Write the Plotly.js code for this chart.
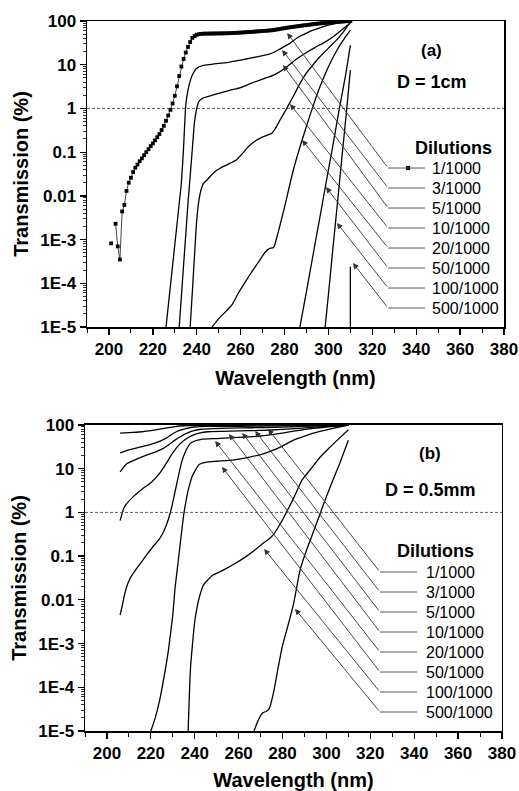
<!DOCTYPE html>
<html><head><meta charset="utf-8">
<script src="https://cdn.plot.ly/plotly-3.0.1.min.js"></script>
<style>html,body{margin:0;padding:0;background:#fff}#chart{width:519px;height:791px}</style>
</head><body><div id="chart"></div>
<script>
// ---------- data ----------
const dilutions = ['1/1000','3/1000','5/1000','10/1000','20/1000','50/1000','100/1000','500/1000'];
const yTickVals = [1e-5,1e-4,1e-3,0.01,0.1,1,10,100];
const yTickText = ['1E-5','1E-4','1E-3','0.01','0.1','1','10','100'];
const xTickVals = [200,220,240,260,280,300,320,340,360,380];

// Panel (a): D = 1cm
const a1_x = [201,202,203,204,205,206,207,208,209,210,211,212,213,214,215,216,217,218,219,220,
  221,222,223,224,225,226,227,228,229,230,231,232,233,234,235,236,237,238,239,240,
  241,242,243,244,245,246,247,248,249,250,251,252,253,254,255,256,257,258,259,260,
  261,262,263,264,265,266,267,268,269,270,271,272,273,274,275,276,277,278,279,280,
  281,282,283,284,285,286,287,288,289,290,291,292,293,294,295,296,297,298,299,300,
  301,302,303,304,305,306,307,308,309,310];
const a1_y = [8.2e-4,null,2.3e-3,7e-4,3.5e-4,4.4e-3,6.2e-3,0.013,0.020,0.026,0.035,0.044,0.052,0.062,0.072,0.085,0.10,0.117,0.138,0.158,
  0.186,0.22,0.26,0.32,0.40,0.52,0.69,0.93,1.3,1.95,3.2,5.5,9.1,13.5,19,25.5,33,41,45.3,48.5,
  50,50.8,51.2,51.4,51.5,51.6,51.7,51.8,51.9,52,52.1,52.2,52.3,52.5,52.7,53,53.3,53.6,54,54.4,
  54.8,55.2,55.6,56,56.5,57,57.5,58,58.5,59,59.5,60,60.6,61.2,62,63.3,64.6,66,67.3,68.6,
  70,71.2,72.4,73.6,74.8,76,77.2,78.4,79.6,80.8,82,83.2,84.4,85.6,86.8,88,88.9,89.8,90.7,91.6,
  92.5,93.4,94.3,95.2,96.1,97,97.9,98.8,99.4,100];
const a3_x = [226,228,230,232,233,234,235,236,237,238,240,243,246,250,255,260,265,270,273,275,278,282,286,290,294,298,302,306,310];
const a3_y = [1e-5,8.7e-5,7.6e-4,6.6e-3,0.02,0.13,1.2,2.6,4.2,5.8,8.3,9.6,10.1,10.7,11.5,12.8,14.3,16.2,17.5,19,23,30,42,53,64,75,85,93,100];
const a5_x = [232,233,234,235,236,237,238,239,240,241,243,245,250,255,260,265,270,273,275,278,282,286,290,294,298,302,306,310];
const a5_y = [1e-5,5e-5,2.6e-4,1.3e-3,6.7e-3,0.028,0.12,0.5,1.0,1.45,1.75,1.87,2.2,2.6,3.0,3.8,4.7,5.3,5.8,7,9.8,14,19,25,32,43,62,90];
const a10_x = [237,238,239,240,241,242,243,245,247,249,251,254,258,261,263,265,267,269,271,273,274,276,278,281,284,287,290,293,296,300,304,307,310];
const a10_y = [1e-5,6.5e-5,4.5e-4,2.8e-3,8e-3,0.014,0.019,0.024,0.031,0.038,0.044,0.052,0.066,0.095,0.125,0.155,0.185,0.21,0.232,0.255,0.265,0.36,0.55,1.0,1.9,3.7,6.5,10,15,24,38,58,95];
const a20_x = [247,249,251,253,256,259,262,265,268,271,273,275,277,280,284,288,292,296,300,304,308,310];
const a20_y = [1e-5,1.35e-5,1.75e-5,2.2e-5,3.2e-5,6e-5,1.05e-4,1.8e-4,3e-4,5e-4,6.2e-4,6.6e-4,1.4e-3,5.5e-3,0.039,0.19,0.8,3,9,22,45,62];
const a50_x = [287,290,293,296,299,302,305,308,310];
const a50_y = [1e-5,6.5e-5,4.5e-4,3e-3,0.021,0.14,1.0,6.5,28];
const a100_x = [298.5,300,302,304,306,308,310];
const a100_y = [1e-5,5.5e-5,6e-4,6e-3,0.065,0.65,7.5];
const a500_x = [310,310];
const a500_y = [1e-5,2.4e-4];
// arrow tips (a)
const tipsA_x = [281.2,278.9,279.3,282.5,288.0,298.9,303.9,311.2];
const tipsA_y = [53,21.7,9.8,1.26,0.19,0.0159,0.0024,2.9e-4];

// Panel (b): D = 0.5mm
const b1_x = [206,210,216,220,224,228,231,235,240,250,270,290,310];
const b1_y = [65,67,70,74,80,87,92,96,98,98.5,99,99.5,100];
const b3_x = [206,210,216,220,224,227,230,233,236,240,245,260,280,300,310];
const b3_y = [23,27,32,36,42,50,63,75,83,90,92.5,93.5,95,97.5,100];
const b5_x = [206,209,214,218,222,225,228,231,234,237,240,243,248,256,266,276,292,310];
const b5_y = [8.5,13,17,20.5,24,28,35,45,56,67,75,80,83,85,86.5,88,94,100];
const b10_x = [206,208,212,216,220,224,226,228,230,233,236,239,242,246,252,260,270,280,295,310];
const b10_y = [0.65,1.35,2.3,3.4,4.8,7.8,11,16,23,36,48,58,65,70,71.5,73,75,79,89,100];
const b20_x = [206,207,208,209,210,211,213,215,218,221,224,226,228,229,230,232,234,236,238,240,243,250,260,270,276,285,295,310];
const b20_y = [0.0045,0.0075,0.013,0.02,0.027,0.034,0.048,0.066,0.105,0.166,0.25,0.38,0.7,1.05,1.7,5,14,26,38,43,47,49,52,56,61,72,85,100];
const b50_x = [220,222,224,226,228,230,231,232,233,234,235,236,237,239,242,245,250,258,265,270,274,280,285,291,297,303,310];
const b50_y = [1e-5,2e-5,5e-5,1.7e-4,7e-4,4.5e-3,0.018,0.048,0.13,0.35,0.9,1.8,3.2,7,12.5,14,14.8,16,18.5,21,24.5,33,45,58,71,84,100];
const b100_x = [237,238,239,240,241,242,244,248,253,258,263,268,271,274,276,279,282,285,289,293,297,301,305,310];
const b100_y = [1e-5,2.4e-4,1e-3,3.2e-3,6.5e-3,0.011,0.022,0.036,0.048,0.066,0.095,0.145,0.195,0.25,0.32,0.55,1.05,2.1,5.6,10,18,29,45,78];
const b500_x = [267,269,271,272.5,274,276,278,280,282,285,288,291,294,297,300,303,306,310];
const b500_y = [1e-5,1.8e-5,2.6e-5,2.8e-5,3.3e-5,8e-5,2.8e-4,9e-4,2.1e-3,8e-3,0.048,0.14,0.35,0.9,2.3,5.5,13,45];
// arrow tips (b)
const tipsB_x = [273.4,267.5,261.6,255.6,249.3,252.4,271.6,285.7];
const tipsB_y = [81,73,66,62,43,11,0.146,0.0062];

// ---------- styling / layout ----------
const FONT = 'Liberation Sans, Arial, Helvetica, sans-serif';
const rowLog0 = -1.363, rowStep = 0.4575;          // label rows (log10 units)
const panelA = {xr:'x', yr:'y', tail:327.2, lineEnd:344.0, text:346.3, mark:336.3, head:{x:356.8, y:-0.905},
  tag:{x:347.1, y:1.336, t:'(a)'}, dl:{x:347.1, y:0.611, t:'D = 1cm'}};
const panelB = {xr:'x2', yr:'y2', tail:324.4, lineEnd:341.3, text:344.5, head:{x:349.5, y:-0.883},
  tag:{x:347.2, y:1.35, t:'(b)'}, dl:{x:347.2, y:0.513, t:'D = 0.5mm'}};

function curve(x, y, xa, ya) {
  return {x:x, y:y, xaxis:xa, yaxis:ya, mode:'lines', type:'scatter', hoverinfo:'skip',
    line:{color:'#000', width:1.3, shape:'spline', smoothing:0.5}, showlegend:false};
}
const traces = [
  {x:a1_x, y:a1_y, xaxis:'x', yaxis:'y', mode:'lines+markers', type:'scatter', connectgaps:false, hoverinfo:'skip',
    line:{color:'#444', width:1}, marker:{symbol:'square', size:3.8, color:'#000'}, showlegend:false},
  curve(a3_x,a3_y,'x','y'), curve(a5_x,a5_y,'x','y'), curve(a10_x,a10_y,'x','y'),
  curve(a20_x,a20_y,'x','y'), curve(a50_x,a50_y,'x','y'), curve(a100_x,a100_y,'x','y'),
  curve(a500_x,a500_y,'x','y'),
  curve(b1_x,b1_y,'x2','y2'), curve(b3_x,b3_y,'x2','y2'), curve(b5_x,b5_y,'x2','y2'),
  curve(b10_x,b10_y,'x2','y2'), curve(b20_x,b20_y,'x2','y2'), curve(b50_x,b50_y,'x2','y2'),
  curve(b100_x,b100_y,'x2','y2'), curve(b500_x,b500_y,'x2','y2'),
  // legend key marker on the 1/1000 row of panel (a)
  {x:[panelA.mark], y:[Math.pow(10,rowLog0)], xaxis:'x', yaxis:'y', mode:'markers', type:'scatter', hoverinfo:'skip',
    marker:{symbol:'square', size:4, color:'#000'}, showlegend:false}
];

const annotations = [], shapes = [];
function addPanel(P, tx, ty) {
  dilutions.forEach((d, i) => {
    const row = rowLog0 - rowStep * i;
    annotations.push({xref:P.xr, yref:P.yr, axref:P.xr, ayref:P.yr,
      x:tx[i], y:Math.log10(ty[i]), ax:P.tail, ay:row, text:'', showarrow:true,
      arrowhead:2, arrowsize:1.3, arrowwidth:0.9, arrowcolor:'#333'});
    shapes.push({type:'line', xref:P.xr, yref:P.yr, x0:P.tail, x1:P.lineEnd,
      y0:Math.pow(10,row), y1:Math.pow(10,row), line:{color:'#444', width:0.9}});
    annotations.push({xref:P.xr, yref:P.yr, x:P.text, y:row, text:d, showarrow:false,
      xanchor:'left', yanchor:'middle', font:{family:FONT, size:16, color:'#000'}});
  });
  annotations.push({xref:P.xr, yref:P.yr, x:P.head.x, y:P.head.y, text:'Dilutions', showarrow:false,
    xanchor:'center', yanchor:'middle', font:{family:FONT, size:18, color:'#000', weight:'bold'}});
  annotations.push({xref:P.xr, yref:P.yr, x:P.tag.x, y:P.tag.y, text:P.tag.t, showarrow:false,
    xanchor:'center', yanchor:'middle', font:{family:FONT, size:17, color:'#000', weight:'bold'}});
  annotations.push({xref:P.xr, yref:P.yr, x:P.dl.x, y:P.dl.y, text:P.dl.t, showarrow:false,
    xanchor:'center', yanchor:'middle', font:{family:FONT, size:18, color:'#000', weight:'bold'}});
  shapes.push({type:'line', xref:P.xr + ' domain', yref:P.yr, x0:0, x1:1, y0:1, y1:1,
    line:{color:'#333', width:0.8, dash:'3px,2px'}});
}
addPanel(panelA, tipsA_x, tipsA_y);
addPanel(panelB, tipsB_x, tipsB_y);

const minorY = [];
for (let e = -5; e < 2; e++) for (let m = 2; m <= 9; m++) minorY.push(m * Math.pow(10, e));

function xAxis(domain, anchor) {
  return {domain:domain, anchor:anchor, range:[190,380], tickmode:'array', tickvals:xTickVals,
    ticks:'outside', ticklen:6, tickwidth:1.3, tickcolor:'#000',
    showline:true, linewidth:1.5, linecolor:'#000', mirror:true, showgrid:false, zeroline:false,
    tickfont:{family:FONT, size:17, color:'#000', weight:'bold'},
    minor:{ticks:'outside', ticklen:4, tickwidth:1, tickcolor:'#000', tickmode:'linear', tick0:190, dtick:10},
    title:{text:'Wavelength (nm)', standoff:13, font:{family:FONT, size:20, color:'#000', weight:'bold'}}};
}
function yAxis(domain, anchor) {
  return {domain:domain, anchor:anchor, type:'log', range:[-5,2], tickmode:'array', tickvals:yTickVals, ticktext:yTickText,
    ticks:'outside', ticklen:6, tickwidth:1.3, tickcolor:'#000',
    showline:true, linewidth:1.5, linecolor:'#000', mirror:true, showgrid:false, zeroline:false,
    tickfont:{family:FONT, size:17, color:'#000', weight:'bold'},
    minor:{ticks:'outside', ticklen:3, tickwidth:0.8, tickcolor:'#000', tickmode:'array', tickvals:minorY},
    title:{text:'Transmission (%)', standoff:6, font:{family:FONT, size:20, color:'#000', weight:'bold'}}};
}

const layout = {
  width:519, height:791, margin:{l:85, r:15, t:21, b:60},
  paper_bgcolor:'#fff', plot_bgcolor:'#fff', showlegend:false,
  xaxis: xAxis([0.0048,1], 'y'), yaxis: yAxis([0.569,1], 'x'),
  xaxis2: xAxis([0,0.9952], 'y2'), yaxis2: yAxis([0,0.431], 'x2'),
  annotations: annotations, shapes: shapes
};
Plotly.newPlot('chart', traces, layout, {displayModeBar:false, staticPlot:true});
</script></body></html>
